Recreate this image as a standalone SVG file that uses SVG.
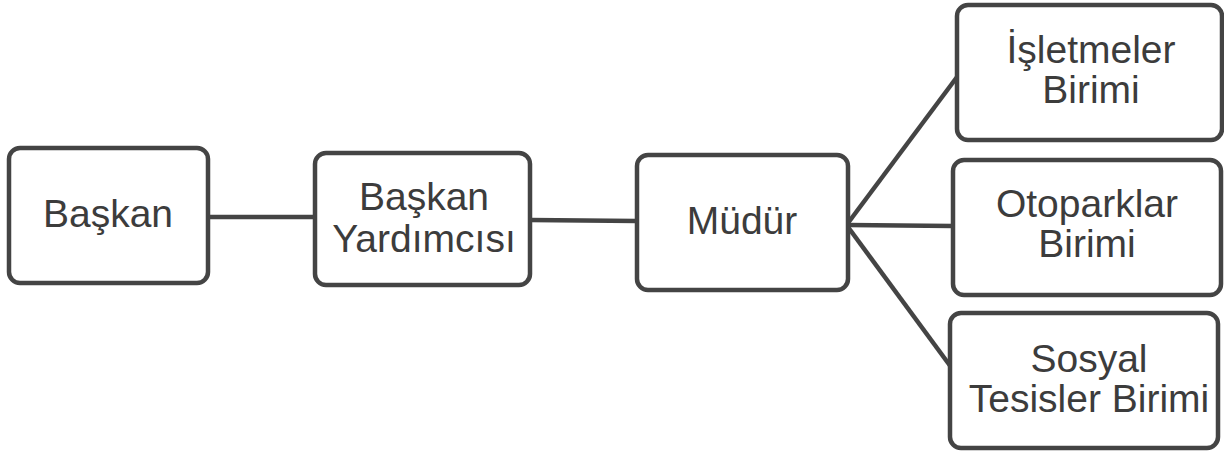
<svg xmlns="http://www.w3.org/2000/svg" width="1224" height="455" viewBox="0 0 1224 455">
<style>
.box{fill:#fff;stroke:#444;stroke-width:4.5}
.ln{stroke:#444;stroke-width:4.5;fill:none}
text{font-family:"Liberation Sans",Arial,sans-serif;font-size:39px;fill:#3c3c3c;text-anchor:middle}
</style>
<rect width="1224" height="455" fill="#fff"/>
<g id="connectors">
<line class="ln" x1="208" y1="217" x2="315" y2="217"/>
<line class="ln" x1="530" y1="220" x2="637" y2="221"/>
<line class="ln" x1="848" y1="225" x2="953" y2="226"/>
<line class="ln" x1="848" y1="223" x2="957" y2="77"/>
<line class="ln" x1="848" y1="227" x2="951" y2="367"/>
</g>
<g id="baskan">
<rect class="box" x="9" y="148" width="199" height="135" rx="11"/>
<text x="108" y="227">Başkan</text>
</g>
<g id="baskan-yardimcisi">
<rect class="box" x="315" y="153" width="215" height="132" rx="11"/>
<text x="424" y="210">Başkan</text>
<text x="424" y="252">Yardımcısı</text>
</g>
<g id="mudur">
<rect class="box" x="637" y="155" width="211" height="135" rx="11"/>
<text x="742" y="234">Müdür</text>
</g>
<g id="isletmeler">
<rect class="box" x="957" y="5" width="265" height="135" rx="11"/>
<text x="1091" y="63">İşletmeler</text>
<text x="1091" y="103">Birimi</text>
</g>
<g id="otoparklar">
<rect class="box" x="953" y="160" width="268" height="135" rx="11"/>
<text x="1087" y="217">Otoparklar</text>
<text x="1087" y="257">Birimi</text>
</g>
<g id="sosyal">
<rect class="box" x="950" y="313" width="268" height="135" rx="11"/>
<text x="1089" y="372">Sosyal</text>
<text x="1089" y="412">Tesisler Birimi</text>
</g>
</svg>
